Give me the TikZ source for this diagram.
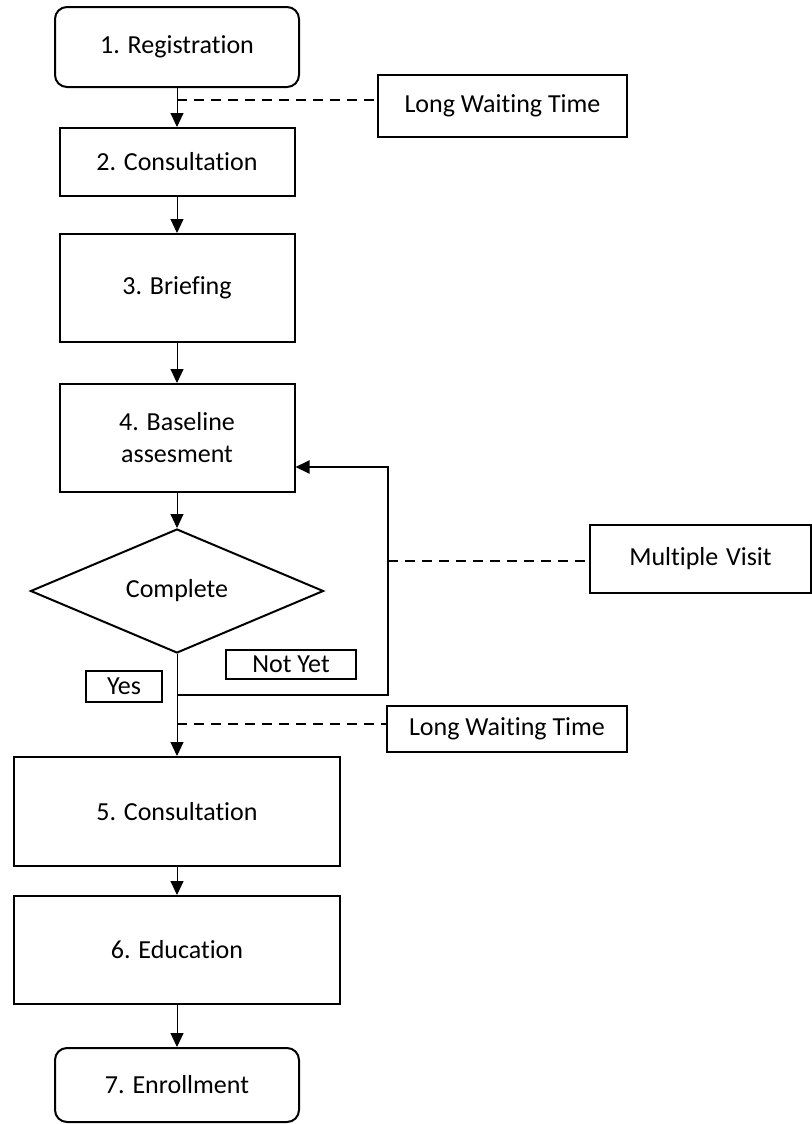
\documentclass[tikz,border=0pt]{standalone}
\usepackage{fontspec}
\setmainfont{Carlito}[Ligatures={NoCommon,NoContextual},Contextuals={NoAlternate}]
\usetikzlibrary{arrows.meta,shapes.geometric}
\begin{document}
\begin{tikzpicture}[x=0.5pt,y=-0.5pt,
 box/.style={draw,line width=1pt,inner sep=0pt,align=center,font=\fontsize{13}{16}\selectfont},
 term/.style={box,rounded corners=6pt},
 decision/.style={box,diamond,aspect=2.36},
 flow/.style={-{Triangle[width=6.5pt,length=7pt]},line width=0.5pt},
 loopline/.style={-{Triangle[width=6.5pt,length=7pt]},line width=1pt},
 dashline/.style={line width=1pt,dash pattern=on 5pt off 3.5pt}]
\useasboundingbox (0,0) rectangle (812,1124);
% main column
\node[term,minimum width=122pt,minimum height=40pt] (reg) at (177,47) {1. Registration};
\node[box,minimum width=117.5pt,minimum height=34pt] (cons2) at (177,162) {2. Consultation};
\node[box,minimum width=117.5pt,minimum height=54pt] (brief) at (177,288) {3. Briefing};
\node[box,minimum width=117.5pt,minimum height=54pt] (base) at (177,438) {4. Baseline\\assesment};
\node[decision,minimum width=146.5pt,minimum height=62pt] (comp) at (177,591) {Complete};
\node[box,minimum width=163pt,minimum height=54.5pt] (cons5) at (177,811.5) {5. Consultation};
\node[box,minimum width=163pt,minimum height=54pt] (edu) at (177,950) {6. Education};
\node[term,minimum width=122pt,minimum height=37pt] (enr) at (177,1085) {7. Enrollment};
% side notes
\node[box,minimum width=124.5pt,minimum height=31pt] (lwt1) at (502.5,106) {Long Waiting Time};
\node[box,minimum width=110.5pt,minimum height=34pt] (mv) at (700.5,559) {Multiple\hspace{0.3em}Visit};
\node[box,minimum width=120pt,minimum height=23pt] (lwt2) at (507,729) {Long Waiting Time};
\node[box,minimum width=65pt,minimum height=14.5pt] (notyet) at (291,664.5) {Not Yet};
\node[box,minimum width=38pt,minimum height=15.5pt] (yes) at (124,686.5) {Yes};
% junction coordinates
\coordinate (c1) at (177,100);
\coordinate (j) at (177,695);
\coordinate (lx) at (388,467);
\coordinate (mvj) at (388,561);
\coordinate (c2) at (177,724);
% connectors
\draw[flow] (reg) -- (cons2);
\draw[flow] (cons2) -- (brief);
\draw[flow] (brief) -- (base);
\draw[flow] (base) -- (comp);
\draw[flow] (comp.south) -- (cons5.north);
\draw[flow] (cons5) -- (edu);
\draw[flow] (edu) -- (enr);
\draw[loopline] (j) -- (j -| lx) -- (lx) -- (lx -| base.east);
\draw[dashline] (c1) -- (c1 -| lwt1.west);
\draw[dashline] (mvj) -- (mvj -| mv.west);
\draw[dashline] (c2) -- (c2 -| lwt2.west);
\end{tikzpicture}
\end{document}
